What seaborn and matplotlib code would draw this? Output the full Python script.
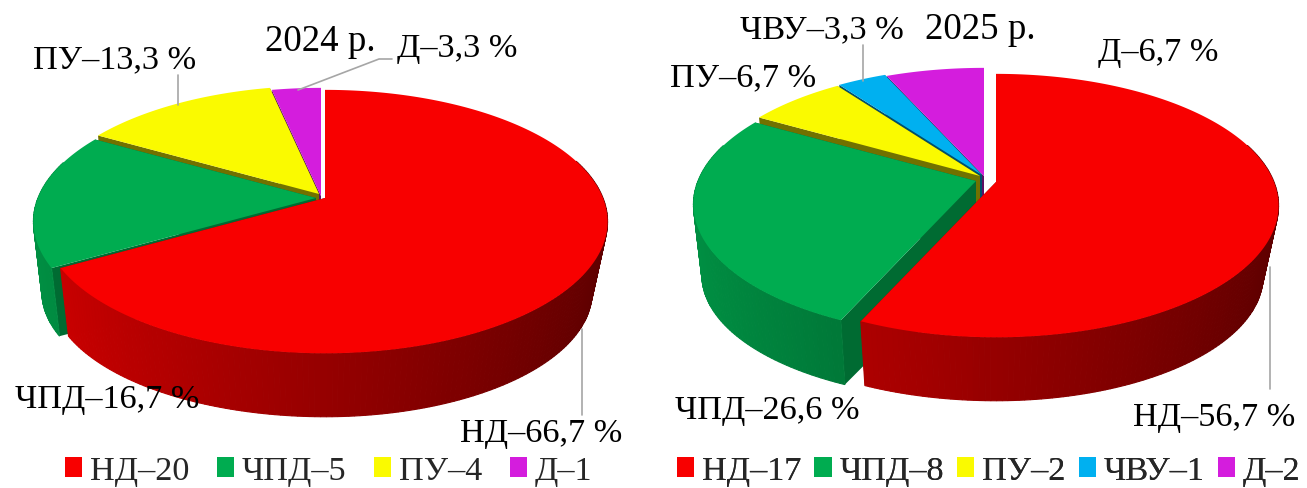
import matplotlib.pyplot as plt
import numpy as np
import seaborn as sns
from matplotlib.patches import Patch, Polygon

sns.set_theme(style="white")
plt.rcParams["font.family"] = ["Liberation Serif", "DejaVu Serif"]

# data
categories_2024 = ["НД", "ЧПД", "ПУ", "Д"]
counts_2024 = [20, 5, 4, 1]
pct_2024 = ["66,7", "16,7", "13,3", "3,3"]

categories_2025 = ["НД", "ЧПД", "ПУ", "ЧВУ", "Д"]
counts_2025 = [17, 8, 2, 1, 2]
pct_2025 = ["56,7", "26,6", "6,7", "3,3", "6,7"]

colors = dict(zip(["НД", "ЧПД", "ПУ", "ЧВУ", "Д"],
                  sns.color_palette(["#F80000", "#00AC50", "#FAFA00", "#00B0F0", "#D41DDD"])))
cut_shade = {"НД": 0.5, "ЧПД": 0.62, "ПУ": 0.45, "ЧВУ": 0.45, "Д": 0.45}

# fake 3d projection, pixels
A, B, P = 278, 127.5, 0.179
DEPTH = 72
SHRINK = 0.945
FS = 24.7

# slice centres (each slice is pulled out a bit)
centres_2024 = {"НД": (325, 199), "ЧПД": (316, 199), "ПУ": (319, 195), "Д": (321, 197)}
centres_2025 = {"НД": (996, 183), "ЧПД": (976, 182), "ПУ": (980, 177), "ЧВУ": (982, 176), "Д": (984, 177)}


def proj(th, c, low=False):
    u, v = np.sin(th), -np.cos(th)
    w = 1 - P * v
    kx = (np.where(u < 0, 0.97, SHRINK)) if low else 1
    k = SHRINK if low else 1
    y0 = c[1] + (DEPTH if low else 0)
    return np.column_stack([c[0] + kx * A * u / w, y0 + k * B * v / w])


def centre(c, low=False):
    return np.array([[c[0], c[1] + (DEPTH if low else 0)]])


def shade(col, f):
    return tuple(min(1, x * f) for x in col)


def draw_pie(ax, cats, counts, centres):
    edges = np.cumsum([0] + counts) / sum(counts) * 2 * np.pi
    # back slices first
    for i in range(len(cats) - 1, -1, -1):
        col = colors[cats[i]]
        c = centres[cats[i]]
        t0, t1 = edges[i], edges[i + 1]
        # cut faces
        for t in (t0, t1):
            pts = np.vstack([centre(c), proj(np.array([t]), c),
                             proj(np.array([t]), c, True), centre(c, True)])
            ax.add_patch(Polygon(pts, fc=shade(col, cut_shade[cats[i]]), ec="none"))
        # outer wall, the far side is hidden anyway
        n = max(2, int((t1 - t0) / np.radians(1)))
        tt = np.linspace(t0, t1, n + 1)
        order = np.argsort(-np.cos((tt[:-1] + tt[1:]) / 2))
        for j in order:
            a = tt[j:j + 2]
            if np.cos(a.mean()) > 0.3:
                continue
            f = 0.37 + 0.235 * (1 - np.sin(a.mean()))
            pts = np.vstack([proj(a, c), proj(a[::-1], c, True)])
            ax.add_patch(Polygon(pts, fc=shade(col, f), ec=shade(col, f), lw=0.8))
        # top
        tt = np.linspace(t0, t1, 200)
        pts = np.vstack([centre(c), proj(tt, c)])
        ax.add_patch(Polygon(pts, fc=col, ec="none"))


def leader(ax, xs, ys):
    ax.plot(xs, ys, color="#A6A6A6", lw=1.2, zorder=5)


def pie_legend(ax, cats, counts, anchor, spacing):
    handles = [Patch(fc=colors[c], ec="none") for c in cats]
    labels = [f"{c}–{n}" for c, n in zip(cats, counts)]
    leg = ax.legend(handles, labels, ncol=len(cats), loc="center left",
                    bbox_to_anchor=anchor, bbox_transform=ax.transData,
                    frameon=False, fontsize=FS, handlelength=0.5, handleheight=0.5,
                    handletextpad=0.23, columnspacing=spacing, borderpad=0, borderaxespad=0)
    ax.add_artist(leg)


fig = plt.figure(figsize=(13.07, 4.89), dpi=100)
ax = fig.add_axes([0, 0, 1, 1])
ax.set_xlim(0, 1307)
ax.set_ylim(489, 0)
ax.axis("off")

draw_pie(ax, categories_2024, counts_2024, centres_2024)
draw_pie(ax, categories_2025, counts_2025, centres_2025)

leader(ax, [298, 379, 392], [91, 60, 60])
leader(ax, [178, 178], [106, 76])
leader(ax, [582, 582], [330, 416])
leader(ax, [863, 863], [82, 46])
leader(ax, [1270, 1270], [268, 390])

label_pos_2024 = {"НД": (460, 434), "ЧПД": (15, 400), "ПУ": (33, 60), "Д": (397, 49)}
label_pos_2025 = {"НД": (1133, 418), "ЧПД": (675, 411), "ПУ": (670, 78), "ЧВУ": (740, 30), "Д": (1098, 53)}
for cats, pct, pos in [(categories_2024, pct_2024, label_pos_2024),
                       (categories_2025, pct_2025, label_pos_2025)]:
    for c, p in zip(cats, pct):
        ax.text(*pos[c], f"{c}–{p} %", fontsize=FS, color="black", ha="left", va="center", zorder=6)

ax.text(265, 42, "2024 р.", fontsize=26.6, color="black", ha="left", va="center")
ax.text(925, 30, "2025 р.", fontsize=26.6, color="black", ha="left", va="center")

pie_legend(ax, categories_2024, counts_2024, (65, 472), 0.8)
pie_legend(ax, categories_2025, counts_2025, (677, 472), 0.38)

fig.savefig("out.png", dpi=100)
